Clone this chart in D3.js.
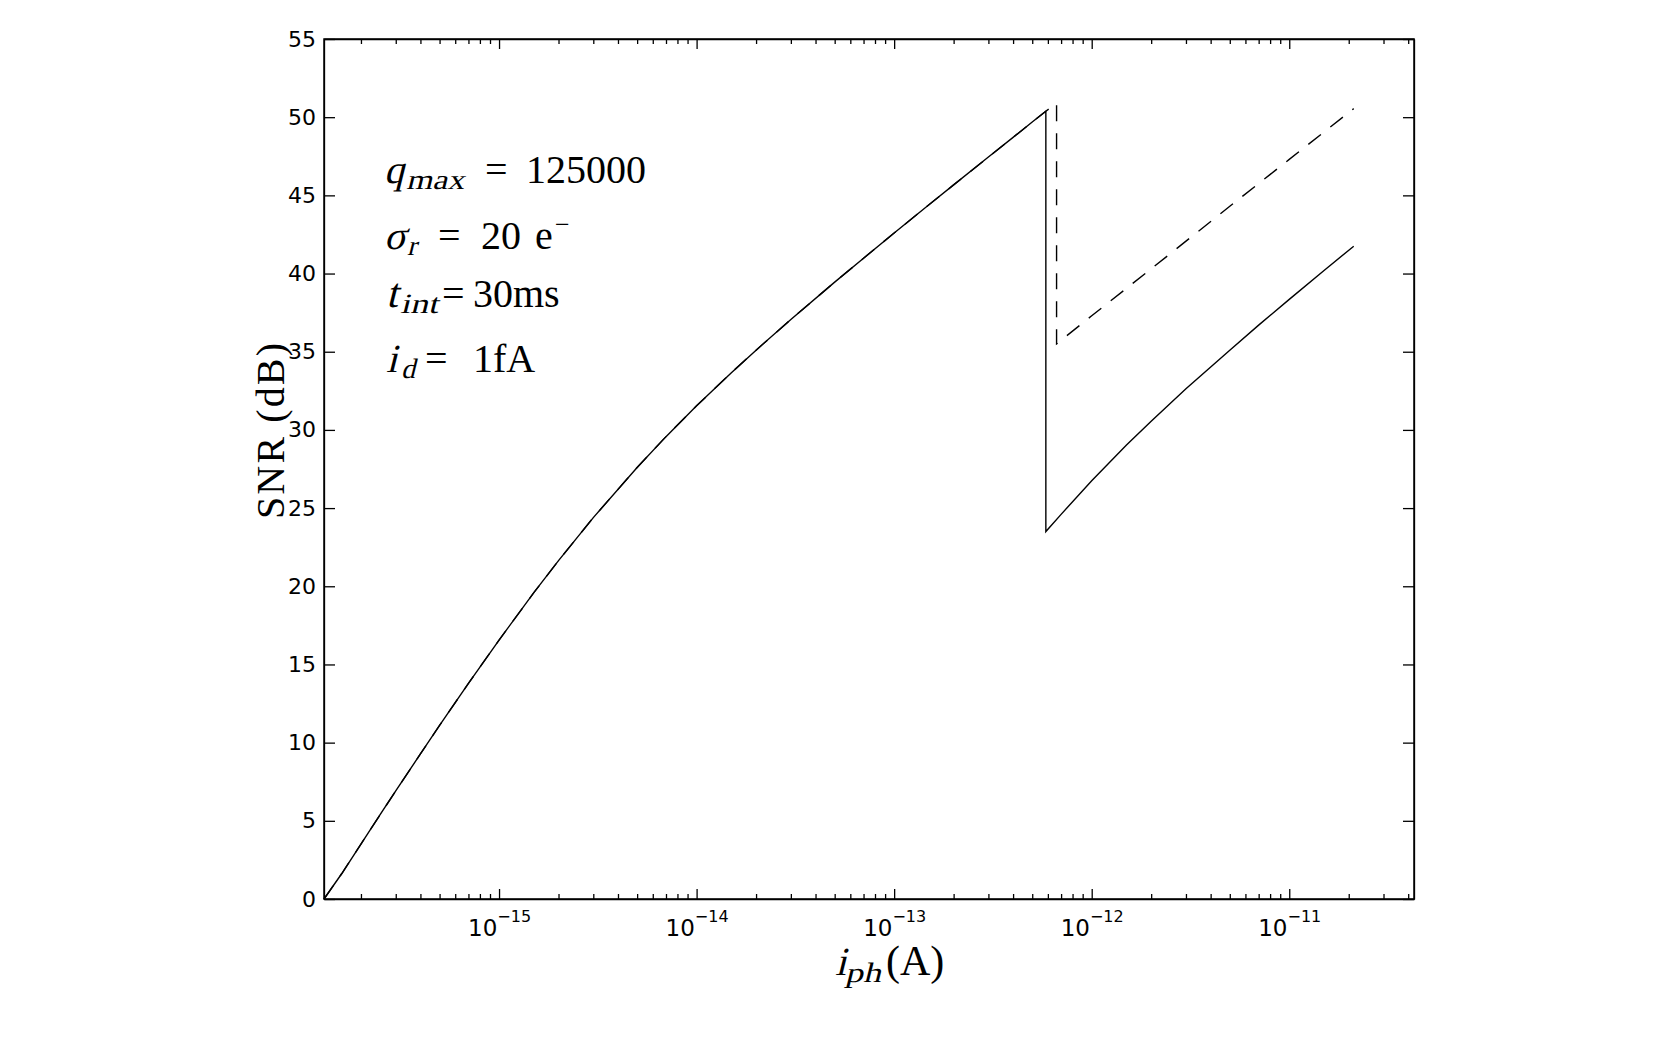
<!DOCTYPE html>
<html>
<head>
<meta charset="utf-8">
<script src="https://cdn.jsdelivr.net/npm/d3@7"></script>
<style>
  body { margin: 0; background: #fff; }
  svg { display: block; }
  .axis text { font-family: "DejaVu Sans", sans-serif; font-size: 22px; fill: #000; }
  .axis .xlab { font-size: 23px; }
  .axis line, .axis path { stroke: #000; stroke-width: 1.3; }
  .math { font-family: "Liberation Serif", serif; fill: #000; }
</style>
</head>
<body>
<script>
// photocurrent (A) and SNR (dB)
const iphMain = [1.3e-16, 1.6e-16, 2e-16, 2.5e-16, 3e-16, 4e-16, 5e-16, 7e-16,
  1e-15, 1.5e-15, 2e-15, 3e-15, 5e-15, 7e-15, 1e-14, 1.5e-14, 2e-14, 3e-14,
  5e-14, 7e-14, 1e-13, 1.5e-13, 2e-13, 3e-13, 4e-13, 5e-13, 5.86e-13];
const snrMain = [0, 1.63, 3.51, 5.39, 6.91, 9.28, 11.1, 13.79,
  16.56, 19.59, 21.64, 24.39, 27.6, 29.57, 31.54, 33.66, 35.1, 37.06,
  39.45, 40.98, 42.59, 44.4, 45.67, 47.45, 48.71, 49.69, 50.38];

// solid line after the drop
const iphSolidHigh = [5.86e-13, 7e-13, 1e-12, 1.5e-12, 2e-12, 3e-12, 5e-12, 7e-12, 1e-11, 1.5e-11, 2.12e-11];
const snrSolidHigh = [23.5, 24.6, 26.75, 29.03, 30.56, 32.63, 35.1, 36.7, 38.35, 40.2, 41.75];

// dashed line: saturates later, then drops
const iphDashHigh = [6.64e-13, 6.64e-13, 1e-12, 2e-12, 5e-12, 1e-11, 2.12e-11];
const snrDashHigh = [50.9, 35.5, 37.3, 40.3, 44.3, 47.3, 50.55];

const yTicks = [0, 5, 10, 15, 20, 25, 30, 35, 40, 45, 50, 55];

// Set size of SVG
const svgWidth = 1665;
const svgHeight = 1040;

const margin = { top: 39, right: 251, bottom: 141, left: 324 };
const width = svgWidth - margin.left - margin.right;
const height = svgHeight - margin.top - margin.bottom;

const svg = d3.select('body').append('svg')
  .attr('width', svgWidth)
  .attr('height', svgHeight);

const chartGroup = svg.append('g')
  .attr('transform', `translate(${margin.left}, ${margin.top})`);

const x = d3.scaleLog().domain([1.3e-16, 4.28e-11]).range([0, width]);
const y = d3.scaleLinear().domain([0, 55]).range([height, 0]);

const xTicks = x.ticks().filter((d) => d >= x.domain()[0] && d <= x.domain()[1]);
const isMajor = (d) => Math.abs(Math.log10(d) - Math.round(Math.log10(d))) < 1e-6;

// bottom axis, ticks point inward
const xAxisBottom = chartGroup.append('g')
  .attr('class', 'axis')
  .attr('transform', `translate(0, ${height})`)
  .call(d3.axisBottom(x).tickValues(xTicks).tickSizeInner(-10).tickSizeOuter(0).tickFormat(''));
xAxisBottom.selectAll('.tick line').attr('y2', (d) => (isMajor(d) ? -10 : -5));

// power-of-ten labels
xAxisBottom.selectAll('.tick')
  .filter(isMajor)
  .select('text')
  .classed('xlab', true)
  .attr('y', 37)
  .attr('dy', null)
  .each(function (d) {
    const t = d3.select(this);
    t.append('tspan').text('10');
    t.append('tspan')
      .attr('dy', -14)
      .attr('font-size', '16px')
      .style('font-size', '16px')
      .text('\u2212' + Math.abs(Math.round(Math.log10(d))));
  });

// top axis
const xAxisTop = chartGroup.append('g')
  .attr('class', 'axis')
  .call(d3.axisTop(x).tickValues(xTicks).tickSizeInner(-10).tickSizeOuter(0).tickFormat(''));
xAxisTop.selectAll('.tick line').attr('y2', (d) => (isMajor(d) ? 10 : 5));

// left axis
chartGroup.append('g')
  .attr('class', 'axis')
  .call(d3.axisLeft(y).tickValues(yTicks).tickSizeInner(-11).tickSizeOuter(0).tickPadding(8));

// right axis
chartGroup.append('g')
  .attr('class', 'axis')
  .attr('transform', `translate(${width}, 0)`)
  .call(d3.axisRight(y).tickValues(yTicks).tickSizeInner(-11).tickSizeOuter(0).tickFormat(''));

// frame
chartGroup.append('rect')
  .attr('width', width)
  .attr('height', height)
  .attr('fill', 'none')
  .attr('stroke', '#000')
  .attr('stroke-width', 1.5);

const line = d3.line()
  .x((d) => x(d[0]))
  .y((d) => y(d[1]));

const solidData = d3.zip(iphMain, snrMain).concat(d3.zip(iphSolidHigh, snrSolidHigh));
const dashData = d3.zip(iphMain, snrMain).concat(d3.zip(iphDashHigh, snrDashHigh));

chartGroup.append('path')
  .datum(solidData)
  .attr('d', line)
  .attr('fill', 'none')
  .attr('stroke', '#000')
  .attr('stroke-width', 1.4);

chartGroup.append('path')
  .datum(dashData)
  .attr('d', line)
  .attr('fill', 'none')
  .attr('stroke', '#000')
  .attr('stroke-width', 1.4)
  .attr('stroke-dasharray', '16,12');

// math-style text pieces: [text, x, y, size, italic, width]
// italics are slanted by hand, the serif italic face is not installed
function mathText(pieces) {
  pieces.forEach((p) => {
    const t = svg.append('text')
      .attr('class', 'math')
      .attr('font-size', p[3] + 'px')
      .text(p[0]);
    if (p[4]) {
      t.attr('transform', `translate(${p[1]}, ${p[2]}) skewX(-14)`);
    } else {
      t.attr('x', p[1]).attr('y', p[2]);
    }
    if (p[5]) t.attr('textLength', p[5]).attr('lengthAdjust', 'spacingAndGlyphs');
  });
}

// parameter notes
mathText([
  ['q', 384, 183, 40, true], ['max', 406, 189, 28, true, 58], ['=', 485, 183, 40, false], ['125000', 526, 183, 40, false],
  ['\u03c3', 384, 249, 40, true], ['r', 407, 255, 28, true], ['=', 438, 249, 40, false], ['20', 481, 249, 40, false],
  ['e', 535, 249, 40, false], ['\u2212', 555, 233, 26, false],
  ['t', 386, 307, 42, true], ['int', 400, 313, 28, true, 38], ['=', 442, 307, 40, false], ['30ms', 473, 307, 40, false],
  ['i', 386, 372, 40, true], ['d', 401, 378, 28, true], ['=', 425, 372, 40, false], ['1fA', 473, 372, 40, false],
]);

// x label
mathText([
  ['i', 835, 975, 40, true], ['ph', 845, 982, 28, true, 36], ['(A)', 886, 975, 42, false],
]);

// y label
svg.append('text')
  .attr('class', 'math')
  .attr('transform', 'translate(284, 431) rotate(-90)')
  .attr('text-anchor', 'middle')
  .attr('font-size', '40px')
  .attr('textLength', 176)
  .attr('lengthAdjust', 'spacing')
  .text('SNR (dB)');
</script>
</body>
</html>
